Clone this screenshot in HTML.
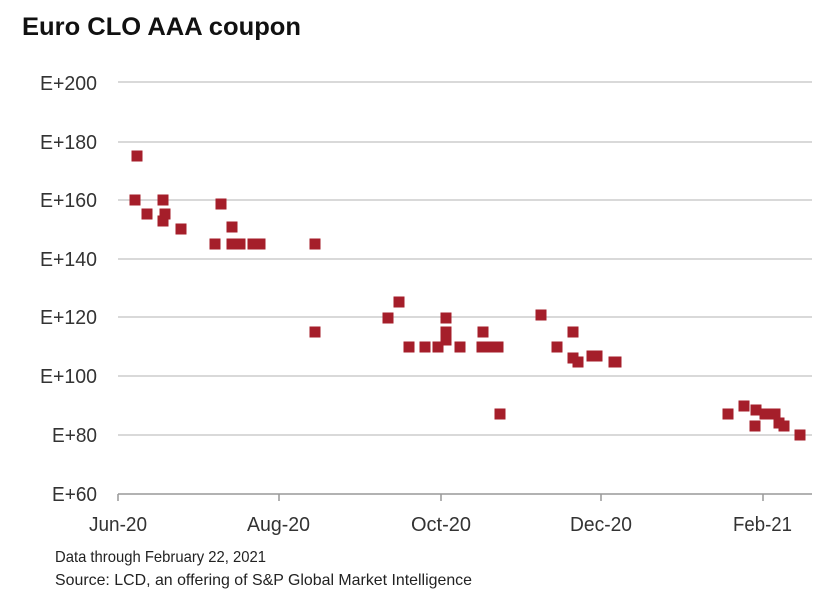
<!DOCTYPE html>
<html><head><meta charset="utf-8"><style>
body{margin:0;background:#fff;}
svg{display:block;font-family:"Liberation Sans",Arial,sans-serif;}
</style></head><body>
<svg width="833" height="594" viewBox="0 0 833 594" xmlns="http://www.w3.org/2000/svg">
<rect width="833" height="594" fill="#fff"/>
<text x="22" y="35" font-size="25" font-weight="bold" fill="#111" textLength="279" lengthAdjust="spacingAndGlyphs">Euro CLO AAA coupon</text>
<g stroke="#d9d9d9" stroke-width="2">
<line x1="118" y1="82" x2="812" y2="82"/>
<line x1="118" y1="142" x2="812" y2="142"/>
<line x1="118" y1="200" x2="812" y2="200"/>
<line x1="118" y1="259" x2="812" y2="259"/>
<line x1="118" y1="317" x2="812" y2="317"/>
<line x1="118" y1="376" x2="812" y2="376"/>
<line x1="118" y1="435" x2="812" y2="435"/>
</g>
<line x1="118" y1="494" x2="812" y2="494" stroke="#999" stroke-width="1.5"/>
<g stroke="#999" stroke-width="1.5">
<line x1="118" y1="494" x2="118" y2="501"/>
<line x1="279" y1="494" x2="279" y2="501"/>
<line x1="441" y1="494" x2="441" y2="501"/>
<line x1="601" y1="494" x2="601" y2="501"/>
<line x1="763" y1="494" x2="763" y2="501"/>
</g>
<g font-size="20" fill="#333" lengthAdjust="spacingAndGlyphs">
<text x="40" y="90" textLength="57" lengthAdjust="spacingAndGlyphs">E+200</text>
<text x="40" y="149" textLength="57" lengthAdjust="spacingAndGlyphs">E+180</text>
<text x="40" y="207" textLength="57" lengthAdjust="spacingAndGlyphs">E+160</text>
<text x="40" y="266" textLength="57" lengthAdjust="spacingAndGlyphs">E+140</text>
<text x="40" y="324" textLength="57" lengthAdjust="spacingAndGlyphs">E+120</text>
<text x="40" y="383" textLength="57" lengthAdjust="spacingAndGlyphs">E+100</text>
<text x="52" y="442" textLength="45" lengthAdjust="spacingAndGlyphs">E+80</text>
<text x="52" y="501" textLength="45" lengthAdjust="spacingAndGlyphs">E+60</text>
</g>
<g font-size="20" fill="#333">
<text x="89" y="531" textLength="58" lengthAdjust="spacingAndGlyphs">Jun-20</text>
<text x="247" y="531" textLength="63" lengthAdjust="spacingAndGlyphs">Aug-20</text>
<text x="411" y="531" textLength="60" lengthAdjust="spacingAndGlyphs">Oct-20</text>
<text x="570" y="531" textLength="62" lengthAdjust="spacingAndGlyphs">Dec-20</text>
<text x="733" y="531" textLength="59" lengthAdjust="spacingAndGlyphs">Feb-21</text>
</g>
<text x="55" y="562" font-size="16" fill="#222" textLength="211" lengthAdjust="spacingAndGlyphs">Data through February 22, 2021</text>
<text x="55" y="585" font-size="16" fill="#222" textLength="417" lengthAdjust="spacingAndGlyphs">Source: LCD, an offering of S&amp;P Global Market Intelligence</text>
<g fill="#a51e2a" id="pts"></g>
</svg>
<script>
var p=[[137,156],[135,200],[147,214],[163,200],[165,214],[163,221],[181,229],[215,244],[221,204],[232,227],[232,244],[240,244],[253,244],[260,244],[315,244],[315,332],
[388,318],[399,302],[409,347],[425,347],[438,347],[446,318],[446,332],[446,340],[460,347],[483,332],[482,347],[490,347],[498,347],[500,414],
[541,315],[557,347],[573,332],[573,358],[578,362],[592,356],[597,356],[614,362],[616,362],
[728,414],[744,406],[756,410],[755,426],[765,414],[771,414],[775,414],[779,423],[784,426],[800,435]];
var g=document.getElementById('pts'),s='';
p.forEach(function(a){s+='<rect x="'+(a[0]-5.5)+'" y="'+(a[1]-5.5)+'" width="11" height="11"/>';});
g.innerHTML=s;
</script>
</body></html>
